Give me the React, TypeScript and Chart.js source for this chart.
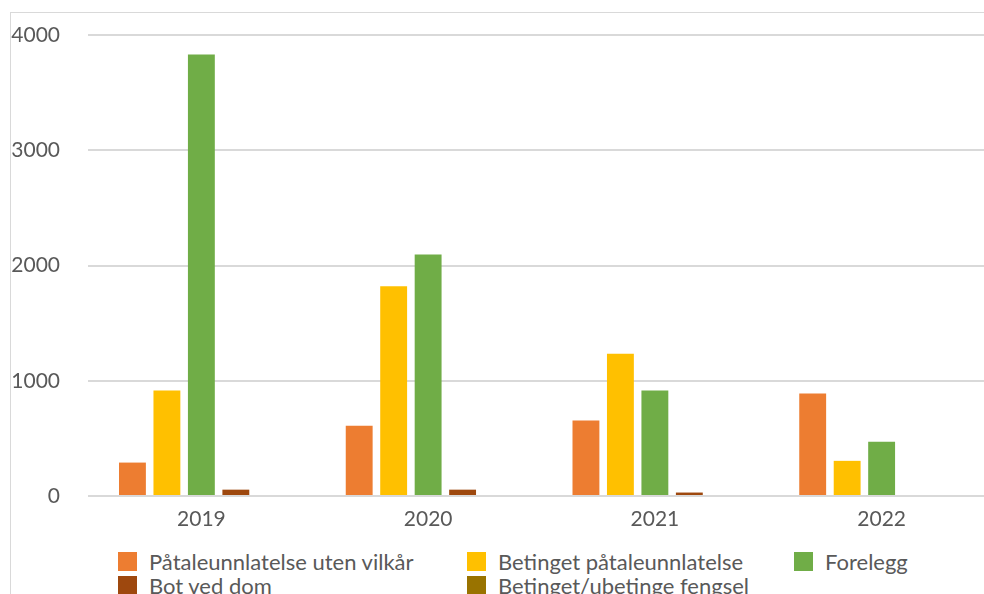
import React, { useEffect, useRef } from "react";
import { Chart, registerables } from "chart.js";

Chart.register(...registerables);

const categories = ["2019", "2020", "2021", "2022"];
const seriesNames = [
  "Påtaleunnlatelse uten vilkår",
  "Betinget påtaleunnlatelse",
  "Forelegg",
  "Bot ved dom",
  "Betinget/ubetinge fengsel",
];
const seriesColors = ["#ED7D31", "#FFC000", "#70AD47", "#9E480E", "#997300"];
const paatale = [290, 610, 655, 890];
const betinget = [915, 1820, 1235, 305];
const forelegg = [3830, 2095, 915, 470];
const botVedDom = [55, 55, 30, 0];
const fengsel = [0, 0, 0, 0];
const seriesValues = [paatale, betinget, forelegg, botVedDom, fengsel];
const yTicks = [0, 1000, 2000, 3000, 4000];

const FONT = "Lato, 'Open Sans', sans-serif";
const TEXT = "#595959";
const GRID = "#D9D9D9";

export default function App() {
  const ref = useRef<HTMLCanvasElement | null>(null);

  useEffect(() => {
    if (!ref.current) return;
    const chart = new Chart(ref.current, {
      type: "bar",
      data: {
        labels: categories,
        datasets: seriesNames.map((name, i) => ({
          label: name,
          data: seriesValues[i],
          backgroundColor: seriesColors[i],
          borderWidth: 0,
          barPercentage: 0.78,
          categoryPercentage: 0.76,
        })),
      },
      options: {
        responsive: false,
        animation: false,
        layout: { padding: { top: 22, left: 0, right: 0, bottom: 0 } },
        plugins: {
          legend: { display: false },
          tooltip: { enabled: false },
        },
        scales: {
          x: {
            grid: { display: false },
            border: { display: false },
            ticks: {
              color: TEXT,
              font: { family: FONT, size: 21 },
              padding: 3,
            },
            afterFit: (s: any) => {
              s.height = 47;
            },
          },
          y: {
            min: 0,
            max: 4000,
            afterBuildTicks: (s: any) => {
              s.ticks = yTicks.map((v) => ({ value: v }));
            },
            grid: { color: GRID, lineWidth: 2, drawTicks: false },
            border: { display: false },
            ticks: {
              color: TEXT,
              font: { family: FONT, size: 21 },
              padding: 28,
              callback: (v: any) => String(v),
            },
            afterFit: (s: any) => {
              s.width = 77;
              s.paddingTop = 0;
              s.paddingBottom = 0;
            },
          },
        },
      },
    });
    return () => chart.destroy();
  }, []);

  return (
    <div
      style={{
        position: "absolute",
        left: 0,
        top: 0,
        width: 984,
        height: 594,
        overflow: "hidden",
        background: "#fff",
      }}
    >
      <div
        style={{
          position: "absolute",
          left: 10,
          top: 12,
          width: 1000,
          height: 640,
          border: `1px solid ${GRID}`,
          boxSizing: "border-box",
        }}
      >
        <canvas
          ref={ref}
          width={984}
          height={530}
          style={{ position: "absolute", left: 0, top: 0, width: 984, height: 530 }}
        />
        <div
          style={{
            position: "absolute",
            left: 107,
            top: 536,
            display: "grid",
            gridTemplateColumns: "349px 327px 200px",
            gridAutoRows: "24px",
            fontFamily: FONT,
            fontSize: 22,
            color: TEXT,
          }}
        >
          {seriesNames.map((name, i) => (
            <div key={name} style={{ display: "flex", alignItems: "center", whiteSpace: "nowrap" }}>
              <span
                style={{
                  display: "inline-block",
                  width: 19,
                  height: 19,
                  background: seriesColors[i],
                  marginRight: 12,
                }}
              />
              <span>{name}</span>
            </div>
          ))}
        </div>
      </div>
    </div>
  );
}
